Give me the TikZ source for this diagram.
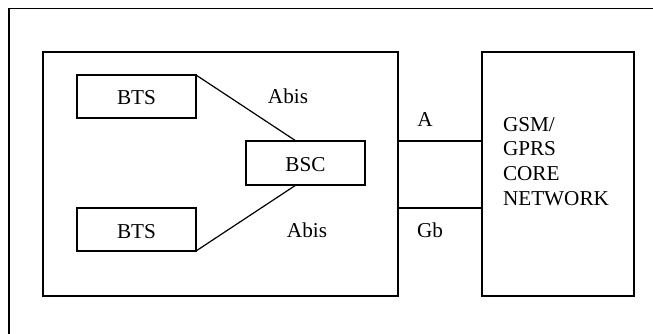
\documentclass[tikz,border=0pt]{standalone}
\usepackage{fontspec}
\setmainfont{Liberation Serif}
\begin{document}
\begin{tikzpicture}[x=1pt,y=-1pt,
  every node/.style={font=\fontsize{21.2}{24.7}\selectfont, inner sep=0pt, outer sep=0pt},
  unit/.style={draw, line width=1.2pt, anchor=north west},
  link/.style={line width=1.2pt},
  lbl/.style={anchor=base}]
\useasboundingbox (0,0) rectangle (653,334);
% open outer frame (top and left edges only)
\coordinate (fr-tr) at (653,8.5);
\coordinate (fr-tl) at (9,8.5);
\coordinate (fr-bl) at (9,334);
\draw[link] (fr-tr) -- (fr-tl) -- (fr-bl);
% base station subsystem
\node[unit, minimum width=355pt, minimum height=244pt] (bss) at (43,52) {};
\node[unit, minimum width=119pt, minimum height=43pt] (bts1) at (77,75) {};
\node[lbl] at ([yshift=-8.5pt]bts1.center) {BTS};
\node[unit, minimum width=119pt, minimum height=43pt] (bts2) at (77,208) {};
\node[lbl] at ([yshift=-8.5pt]bts2.center) {BTS};
\node[unit, minimum width=119pt, minimum height=44pt] (bsc) at (246,141) {};
\node[lbl] at ([yshift=-8.2pt]bsc.center) {BSC};
% core network
\node[unit, minimum width=152pt, minimum height=244pt] (core) at (482,52) {};
\node[anchor=north west, align=left] (coretxt) at (503,117) {GSM/\\GPRS\\CORE\\NETWORK};
% Abis links
\coordinate (bsc-top) at (296,141);
\coordinate (bsc-bot) at (296,185);
\draw[link] (bts1.north east) -- (bsc-top);
\draw[link] (bts2.south east) -- (bsc-bot);
% A and Gb interfaces
\coordinate (a-l) at (398,141);
\coordinate (a-r) at (482,141);
\coordinate (gb-l) at (398,208);
\coordinate (gb-r) at (482,208);
\draw[link] (a-l) -- (a-r);
\draw[link] (gb-l) -- (gb-r);
% interface labels
\node[lbl] (abis1) at (288,104) {Abis};
\node[lbl] (abis2) at (307,237) {Abis};
\node[lbl] (alab) at (425,127) {A};
\node[lbl] (gblab) at (430,237) {Gb};
\end{tikzpicture}
\end{document}
